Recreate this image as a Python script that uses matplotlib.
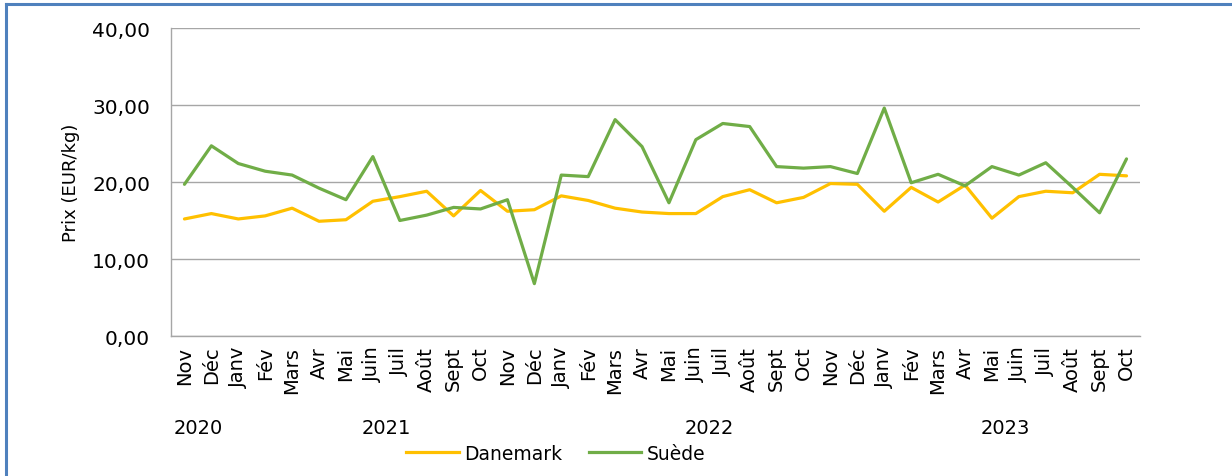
import numpy as np
import matplotlib.pyplot as plt
from matplotlib.lines import Line2D

# Monthly prices, Nov 2020 -> Oct 2023
months = ['Nov', 'Déc',
          'Janv', 'Fév', 'Mars', 'Avr', 'Mai', 'Juin', 'Juil', 'Août', 'Sept', 'Oct', 'Nov', 'Déc',
          'Janv', 'Fév', 'Mars', 'Avr', 'Mai', 'Juin', 'Juil', 'Août', 'Sept', 'Oct', 'Nov', 'Déc',
          'Janv', 'Fév', 'Mars', 'Avr', 'Mai', 'Juin', 'Juil', 'Août', 'Sept', 'Oct']
years = ['2020', '2021', '2022', '2023']
year_counts = [2, 12, 12, 10]

danemark = [15.2, 15.9, 15.2, 15.6, 16.6, 14.9, 15.1, 17.5, 18.1, 18.8, 15.6, 18.9,
            16.2, 16.4, 18.2, 17.6, 16.6, 16.1, 15.9, 15.9, 18.1, 19.0, 17.3, 18.0,
            19.8, 19.7, 16.2, 19.3, 17.4, 19.6, 15.3, 18.1, 18.8, 18.6, 21.0, 20.8]
suede = [19.7, 24.7, 22.4, 21.4, 20.9, 19.2, 17.7, 23.3, 15.0, 15.7, 16.7, 16.5,
         17.7, 6.8, 20.9, 20.7, 28.1, 24.6, 17.3, 25.5, 27.6, 27.2, 22.0, 21.8,
         22.0, 21.1, 29.6, 19.9, 21.0, 19.5, 22.0, 20.9, 22.5, 19.3, 16.0, 23.0]

fig = plt.figure(figsize=(12.32, 4.77), dpi=100)
ax = fig.add_axes([0.1388, 0.2935, 0.7865, 0.6457])

x = np.arange(len(months))
ax.plot(x, danemark, color='#FFC000', lw=2.3, label='Danemark', solid_capstyle='round')
ax.plot(x, suede, color='#70AD47', lw=2.3, label='Suède', solid_capstyle='round')

ax.set_xlim(-0.5, len(months) - 0.5)
ax.set_ylim(0, 40)
ax.set_yticks(np.arange(0, 41, 10))
ax.set_yticklabels([f'{v:.2f}'.replace('.', ',') for v in range(0, 41, 10)], fontsize=14.5)
ax.set_xticks(x)
ax.set_xticklabels(months, rotation=90, fontsize=14)
ax.tick_params(length=0)
ax.tick_params(axis='y', pad=15)
ax.tick_params(axis='x', pad=7)

ax.grid(axis='y', color='#A6A6A6', lw=1)
ax.set_axisbelow(True)
for s in ['top', 'right']:
    ax.spines[s].set_visible(False)
for s in ['left', 'bottom']:
    ax.spines[s].set_color('#A6A6A6')
    ax.spines[s].set_linewidth(1)

ax.set_ylabel('Prix (EUR/kg)', fontsize=13)
ax.yaxis.set_label_coords(-0.094, 0.5)

# year labels centred under their months
start = 0
for yr, n in zip(years, year_counts):
    ax.text(start + (n - 1) / 2, -11.9, yr, ha='center', va='center', fontsize=14,
            transform=ax.transData)
    start += n

handles = [Line2D([], [], color='#FFC000', lw=2.3), Line2D([], [], color='#70AD47', lw=2.3)]
fig.legend(handles, ['Danemark', 'Suède'], loc='center', ncol=2, frameon=False,
           bbox_to_anchor=(0.451, 1 - 454 / 477), fontsize=13.5, handlelength=2.8,
           handletextpad=0.3, columnspacing=1.4)

# blue frame on top and left edges
fig.add_artist(Line2D([0.0048, 1], [1 - 5 / 477, 1 - 5 / 477], color='#4F81BD', lw=2.2,
                      transform=fig.transFigure))
fig.add_artist(Line2D([0.0048, 0.0048], [0, 1 - 5 / 477], color='#4F81BD', lw=2.2,
                      transform=fig.transFigure))

fig.savefig('out.png', dpi=100)
